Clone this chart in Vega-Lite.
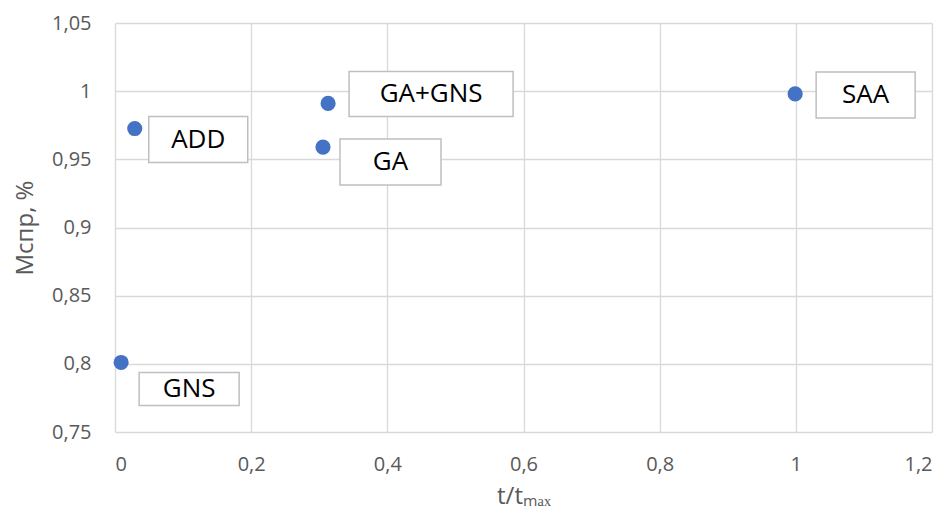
{
  "$schema": "https://vega.github.io/schema/vega-lite/v6.json",
  "width": 817,
  "height": 409,
  "autosize": {"type": "none"},
  "padding": {"left": 115, "top": 23, "right": 18, "bottom": 90},
  "background": "white",
  "config": {
    "view": {"stroke": null},
    "font": "Open Sans",
    "axis": {
      "gridColor": "#d9d9d9",
      "gridWidth": 1.3,
      "domain": false,
      "ticks": false,
      "labelColor": "#595959",
      "labelFontSize": 20,
      "labelFont": "Open Sans",
      "titleColor": "#595959",
      "titleFontSize": 24,
      "titleFont": "Open Sans",
      "titleFontWeight": "normal"
    }
  },
  "data": {
    "values": [
      {"method": "GNS", "t": 0.009, "M": 0.801},
      {"method": "ADD", "t": 0.029, "M": 0.9726},
      {"method": "GA", "t": 0.3055, "M": 0.959},
      {"method": "GA+GNS", "t": 0.313, "M": 0.991},
      {"method": "SAA", "t": 0.999, "M": 0.998}
    ]
  },
  "encoding": {
    "x": {
      "field": "t",
      "type": "quantitative",
      "scale": {"domain": [0, 1.2], "nice": false, "zero": false},
      "axis": {
        "title": "t/tₘₐₓ",
        "values": [0, 0.2, 0.4, 0.6, 0.8, 1, 1.2],
        "labelExpr": "replace(format(datum.value, '~g'), '.', ',')",
        "labelPadding": 22,
        "titlePadding": 10,
        "grid": true
      }
    },
    "y": {
      "field": "M",
      "type": "quantitative",
      "scale": {"domain": [0.75, 1.05], "nice": false, "zero": false},
      "axis": {
        "title": "Мспр, %",
        "values": [0.75, 0.8, 0.85, 0.9, 0.95, 1, 1.05],
        "labelExpr": "replace(format(datum.value, '~g'), '.', ',')",
        "labelPadding": 24,
        "titlePadding": 14,
        "grid": true
      }
    }
  },
  "layer": [
    {"mark": {"type": "circle", "size": 230, "color": "#4472C4", "opacity": 1}},
    {
      "transform": [{"filter": "datum.method === 'GNS'"}],
      "layer": [
        {"mark": {"type": "point", "shape": "M18,10H118V43H18Z", "size": 4, "filled": true, "fill": "white", "fillOpacity": 1, "stroke": "#bfbfbf", "strokeWidth": 1.5, "opacity": 1}},
        {"mark": {"type": "text", "font": "Open Sans", "fontSize": 26, "color": "black", "align": "center", "baseline": "middle", "dx": 68, "dy": 26.5}, "encoding": {"text": {"field": "method"}}}
      ]
    },
    {
      "transform": [{"filter": "datum.method === 'ADD'"}],
      "layer": [
        {"mark": {"type": "point", "shape": "M14,-12H113V34H14Z", "size": 4, "filled": true, "fill": "white", "fillOpacity": 1, "stroke": "#bfbfbf", "strokeWidth": 1.5, "opacity": 1}},
        {"mark": {"type": "text", "font": "Open Sans", "fontSize": 26, "color": "black", "align": "center", "baseline": "middle", "dx": 63.5, "dy": 11}, "encoding": {"text": {"field": "method"}}}
      ]
    },
    {
      "transform": [{"filter": "datum.method === 'GA'"}],
      "layer": [
        {"mark": {"type": "point", "shape": "M17,-8H118V38H17Z", "size": 4, "filled": true, "fill": "white", "fillOpacity": 1, "stroke": "#bfbfbf", "strokeWidth": 1.5, "opacity": 1}},
        {"mark": {"type": "text", "font": "Open Sans", "fontSize": 26, "color": "black", "align": "center", "baseline": "middle", "dx": 67.5, "dy": 15}, "encoding": {"text": {"field": "method"}}}
      ]
    },
    {
      "transform": [{"filter": "datum.method === 'GA+GNS'"}],
      "layer": [
        {"mark": {"type": "point", "shape": "M21,-32H185V13H21Z", "size": 4, "filled": true, "fill": "white", "fillOpacity": 1, "stroke": "#bfbfbf", "strokeWidth": 1.5, "opacity": 1}},
        {"mark": {"type": "text", "font": "Open Sans", "fontSize": 26, "color": "black", "align": "center", "baseline": "middle", "dx": 103, "dy": -9.5}, "encoding": {"text": {"field": "method"}}}
      ]
    },
    {
      "transform": [{"filter": "datum.method === 'SAA'"}],
      "layer": [
        {"mark": {"type": "point", "shape": "M21,-22H120V24H21Z", "size": 4, "filled": true, "fill": "white", "fillOpacity": 1, "stroke": "#bfbfbf", "strokeWidth": 1.5, "opacity": 1}},
        {"mark": {"type": "text", "font": "Open Sans", "fontSize": 26, "color": "black", "align": "center", "baseline": "middle", "dx": 70.5, "dy": 1}, "encoding": {"text": {"field": "method"}}}
      ]
    }
  ]
}
